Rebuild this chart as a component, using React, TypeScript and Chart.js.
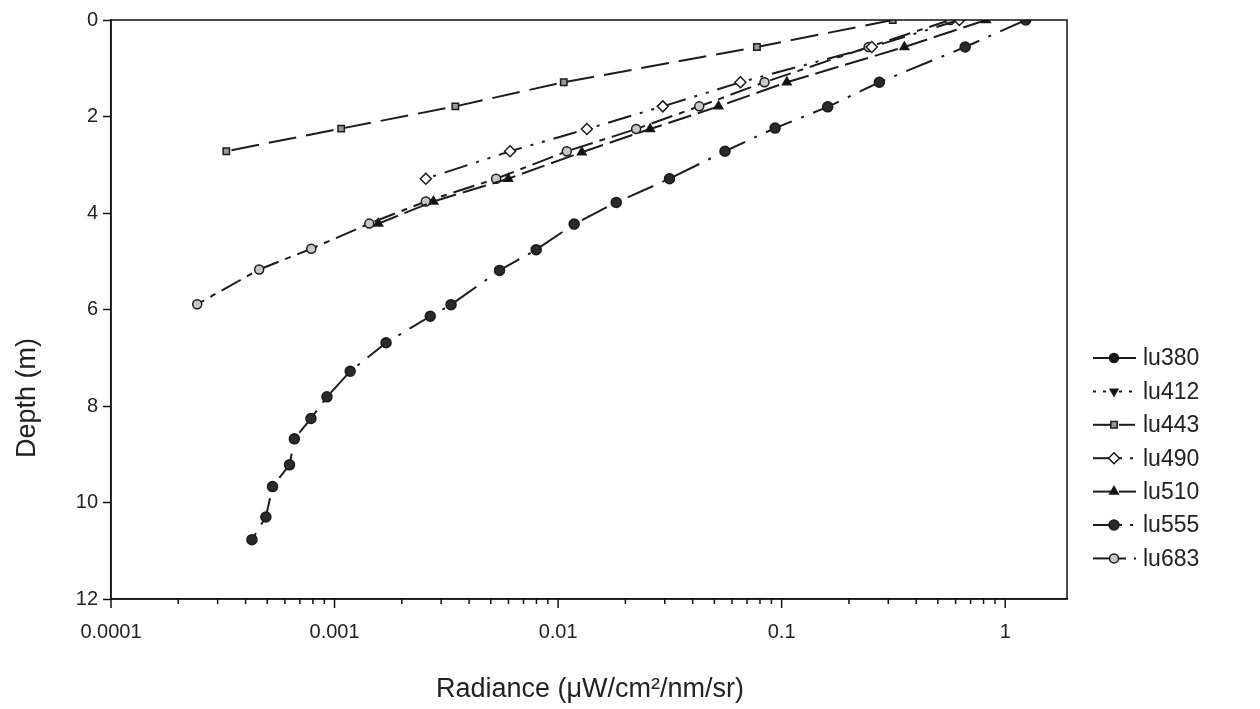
import React, { useEffect, useRef } from 'react';
import { Chart, registerables } from 'chart.js';
import { drawPoint } from 'chart.js/helpers';

Chart.register(...registerables);

const FONT = "'Liberation Sans', Arial, Helvetica, sans-serif";

const seriesNames = ['lu380', 'lu412', 'lu443', 'lu490', 'lu510', 'lu555', 'lu683'];

const depth380: number[] = [];
const rad380: number[] = [];

const depth412: number[] = [];
const rad412: number[] = [];

const depth443 = [0, 0.56, 1.29, 1.79, 2.25, 2.72];
const rad443 = [0.314, 0.0775, 0.0106, 0.00347, 0.00107, 0.000328];

const depth490 = [0, 0.56, 1.29, 1.79, 2.26, 2.72, 3.29];
const rad490 = [0.624, 0.253, 0.0654, 0.0294, 0.01345, 0.0061, 0.00256];

const depth510 = [0, 0.56, 1.29, 1.79, 2.26, 2.74, 3.29, 3.76, 4.22];
const rad510 = [0.821, 0.354, 0.1055, 0.0522, 0.0258, 0.01277, 0.00598, 0.00277, 0.00157];

const depth555 = [0, 0.56, 1.29, 1.8, 2.24, 2.72, 3.29, 3.78, 4.23, 4.76, 5.19, 5.9, 6.14, 6.69, 7.28, 7.81, 8.26, 8.68, 9.22, 9.67, 10.3, 10.77];
const rad555 = [1.236, 0.662, 0.2735, 0.1607, 0.0935, 0.0558, 0.0315, 0.0182, 0.0118, 0.00798, 0.00547, 0.00332, 0.00268, 0.0017, 0.001175, 0.000925, 0.000784, 0.000661, 0.000629, 0.000528, 0.000493, 0.000427];

const depth683 = [0, 0.56, 1.29, 1.79, 2.26, 2.72, 3.29, 3.76, 4.22, 4.74, 5.17, 5.89];
const rad683 = [0.567, 0.245, 0.0838, 0.0428, 0.02234, 0.01094, 0.00528, 0.00256, 0.00143, 0.000787, 0.00046, 0.000243];

const xMin = 0.0001;
const xMax = 1.89;
const yTicks = [0, 2, 4, 6, 8, 10, 12];
const xTickLabels = ['0.0001', '0.001', '0.01', '0.1', '1'];
const xTitle = 'Radiance (\u03bcW/cm\u00b2/nm/sr)';
const yTitle = 'Depth (m)';

const LINE = '#1c1c1c';

const styles = [
  { dash: [], point: 'circle', radius: 4.5, fill: '#111', rot: 0 },
  { dash: [3, 7], point: 'triangle', radius: 4.5, fill: '#111', rot: 180 },
  { dash: [28, 10], point: 'rect', radius: 4.5, fill: '#9a9a9a', rot: 0 },
  { dash: [24, 9, 3, 9, 3, 9], point: 'rectRot', radius: 5.5, fill: '#ffffff', rot: 0 },
  { dash: [24, 7], point: 'triangle', radius: 5, fill: '#111', rot: 0 },
  { dash: [28, 10, 3, 10], point: 'circle', radius: 5, fill: '#2a2a2a', rot: 0 },
  { dash: [22, 7, 6, 7], point: 'circle', radius: 4.5, fill: '#c8c8c8', rot: 0 },
];

// legend sample: [left half dash, right half dash]
const legendDash = [
  [[], []],
  [[3, 7], [3, 7]],
  [[], [16, 2]],
  [[], [3, 8]],
  [[], []],
  [[], [3, 8]],
  [[], [7, 8, 3, 20]],
];

const allDepths = [depth380, depth412, depth443, depth490, depth510, depth555, depth683];
const allRads = [rad380, rad412, rad443, rad490, rad510, rad555, rad683];

const legendPlugin = {
  id: 'customLegendFrame',
  afterDraw(chart: any) {
    const { ctx, chartArea } = chart;
    ctx.save();
    // frame
    ctx.strokeStyle = '#111';
    ctx.lineWidth = 1.5;
    ctx.setLineDash([]);
    ctx.strokeRect(chartArea.left, chartArea.top, chartArea.right - chartArea.left, chartArea.bottom - chartArea.top);

    // x ticks (major + minor)
    const xs = chart.scales.x;
    ctx.beginPath();
    for (let e = -4; e <= 0; e++) {
      for (let m = 1; m <= 9; m++) {
        const v = m * Math.pow(10, e);
        if (v > xMax) break;
        const px = xs.getPixelForValue(v);
        const len = m === 1 ? 9 : 5;
        ctx.moveTo(px, chartArea.bottom);
        ctx.lineTo(px, chartArea.bottom + len);
      }
    }
    ctx.stroke();

    // axis titles
    ctx.fillStyle = '#222';
    ctx.font = `27px ${FONT}`;
    ctx.textAlign = 'center';
    ctx.textBaseline = 'middle';
    ctx.fillText(xTitle, (chartArea.left + chartArea.right) / 2 + 1, 690);
    ctx.save();
    ctx.translate(28, 398);
    ctx.rotate(-Math.PI / 2);
    ctx.fillText(yTitle, 0, 0);
    ctx.restore();

    // legend
    const x0 = 1093;
    const x1 = 1136;
    const xm = 1114;
    const tx = 1143;
    const y0 = 358;
    const dy = 33.4;
    chart.data.datasets.forEach((ds: any, i: number) => {
      const y = y0 + i * dy;
      ctx.strokeStyle = LINE;
      ctx.lineWidth = 2;
      ctx.setLineDash(legendDash[i][0]);
      ctx.beginPath();
      ctx.moveTo(x0, y);
      ctx.lineTo(xm, y);
      ctx.stroke();
      ctx.setLineDash(legendDash[i][1]);
      ctx.beginPath();
      ctx.moveTo(xm + 5, y);
      ctx.lineTo(x1, y);
      ctx.stroke();
      ctx.setLineDash([]);
      ctx.fillStyle = ds.pointBackgroundColor;
      ctx.strokeStyle = ds.pointBorderColor;
      ctx.lineWidth = ds.pointBorderWidth;
      drawPoint(ctx, { pointStyle: ds.pointStyle, radius: ds.pointRadius, rotation: ds.pointRotation, borderWidth: ds.pointBorderWidth }, xm, y);
      ctx.fillStyle = '#222';
      ctx.font = `23px ${FONT}`;
      ctx.textAlign = 'left';
      ctx.textBaseline = 'middle';
      ctx.fillText(ds.label, tx, y + 1);
    });
    ctx.restore();
  },
};

export default function App() {
  const ref = useRef<HTMLCanvasElement | null>(null);

  useEffect(() => {
    document.body.style.margin = '0';
    const canvas = ref.current;
    if (!canvas) return;
    const datasets = seriesNames.map((name, i) => {
      const s = styles[i];
      return {
        label: name,
        data: allDepths[i].map((d, k) => ({ x: allRads[i][k], y: d })),
        showLine: true,
        borderColor: LINE,
        borderWidth: 2,
        borderDash: s.dash,
        pointStyle: s.point,
        pointRadius: s.radius,
        pointRotation: s.rot,
        pointBackgroundColor: s.fill,
        pointBorderColor: '#1a1a1a',
        pointBorderWidth: 1.5,
        tension: 0,
      };
    });
    const chart = new Chart(canvas, {
      type: 'scatter',
      data: { datasets },
      options: {
        animation: false,
        responsive: false,
        devicePixelRatio: 1,
        layout: { padding: { left: 0, right: 193, top: 20, bottom: 0 } },
        plugins: {
          legend: { display: false },
          tooltip: { enabled: false },
        },
        scales: {
          x: {
            type: 'logarithmic',
            position: 'bottom',
            min: xMin,
            max: xMax,
            afterFit: (s: any) => { s.height = 110; },
            border: { display: true, color: '#111', width: 1.5 },
            grid: { display: true, drawOnChartArea: false, drawTicks: true, tickLength: 8, tickColor: 'rgba(0,0,0,0)' },
            ticks: {
              autoSkip: false,
              maxRotation: 0,
              padding: 13,
              color: '#222',
              font: { family: FONT, size: 20 },
              callback: (v: any) => {
                const val = Number(v);
                const lg = Math.log10(val);
                if (Math.abs(lg - Math.round(lg)) < 1e-9) {
                  const idx = Math.round(lg) + 4;
                  return xTickLabels[idx] ?? '';
                }
                return '';
              },
            },
            title: { display: false },
          },
          y: {
            type: 'linear',
            reverse: true,
            min: 0,
            max: 12,
            afterFit: (s: any) => { s.width = 111; },
            afterBuildTicks: (s: any) => { s.ticks = yTicks.map((v) => ({ value: v })); },
            border: { display: true, color: '#111', width: 1.5 },
            grid: { display: true, drawOnChartArea: false, drawTicks: true, tickLength: 8, tickColor: '#111', tickWidth: 1.5 },
            ticks: {
              padding: 5,
              color: '#222',
              font: { family: FONT, size: 20 },
              callback: (v: any) => String(v),
            },
            title: { display: false },
          },
        },
      },
      plugins: [legendPlugin],
    } as any);
    return () => chart.destroy();
  }, []);

  return (
    <div style={{ position: 'fixed', left: 0, top: 0, width: 1260, height: 709, background: '#fff' }}>
      <canvas ref={ref} width={1260} height={709} style={{ width: 1260, height: 709, display: 'block' }} />
    </div>
  );
}
